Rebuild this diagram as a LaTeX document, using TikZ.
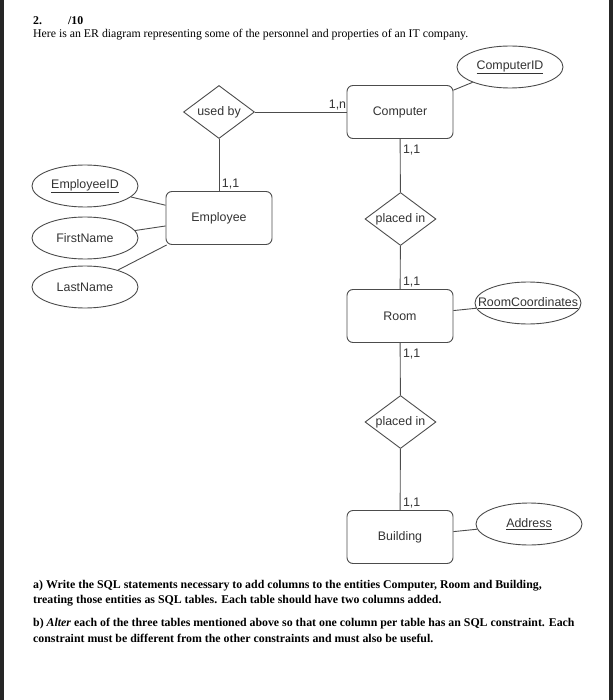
\documentclass[tikz,border=0pt]{standalone}
\usepackage{fontspec}
\setmainfont{Liberation Serif}
\newfontfamily\erfont{Liberation Sans}
\usetikzlibrary{shapes.geometric}
\definecolor{erline}{gray}{0.3}
\definecolor{ertext}{gray}{0.2}
\tikzset{
%Define the font of the diagram
er font/.style={font=\erfont\fontsize{12.4}{14}\selectfont, text=ertext},
%Define style for the ER shapes
entity/.style={draw=erline, line width=0.9pt, rounded corners=6pt, minimum width=106pt, minimum height=53pt, er font},
relation/.style={draw=erline, line width=0.9pt, diamond, minimum width=71pt, minimum height=53pt, inner sep=0pt, label={[er font]center:#1}},
attribute/.style={draw=erline, line width=0.9pt, ellipse, minimum width=106pt, minimum height=42pt, inner sep=0pt, label={[er font]center:#1}},
%Define style for the links and the cardinalities
link/.style={erline, line width=0.9pt},
card above/.style={anchor=base west, inner sep=0pt, xshift=2.5pt, yshift=3.5pt, er font},
card below/.style={anchor=north west, inner sep=0pt, xshift=2.5pt, yshift=-5.5pt, er font},
card left/.style={anchor=base east, inner sep=0pt, yshift=3pt, er font},
%Define style for the question text
question/.style={anchor=base west, inner sep=0pt, align=left, font=\bfseries\fontsize{11.85}{15.5}\selectfont},
}

\begin{document}
\begin{tikzpicture}[x=1pt, y=-1pt]
    \useasboundingbox (0,0) rectangle (615,700);
    % scan edges
    \fill[black!85] (0,0) rectangle (4,700);
    \fill[black!85] (609,0) rectangle (613,700);

    % heading
    \node[question] (qnum) at (33,25) {2.};
    \node[question] (qmark) at (68,25) {/10};
    \node[anchor=base west, inner sep=0pt, font=\fontsize{11.8}{13}\selectfont] (intro) at (33,38)
        {Here is an ER diagram representing some of the personnel and properties of an IT company.};

    % entities
    \node[entity] (computer) at (400,112) {Computer};
    \node[entity] (employee) at (219,218) {Employee};
    \node[entity] (room) at (400,316) {Room};
    \node[entity] (building) at (400,537) {Building};

    % relations
    \node[relation={used by}] (usedby) at (219,112) {};
    \node[relation={placed in}] (placedin1) at (400.5,219) {};
    \node[relation={placed in}] (placedin2) at (400.5,422) {};

    % attributes
    \node[attribute={\underline{ComputerID}}] (computerid) at (510,67) {};
    \node[attribute={\underline{EmployeeID}}] (employeeid) at (85,186) {};
    \node[attribute={FirstName}] (firstname) at (85,238) {};
    \node[attribute={LastName}] (lastname) at (85,287) {};
    \node[attribute={\underline{RoomCoordinates}}] (roomcoord) at (528,303) {};
    \node[attribute={\underline{Address}}] (address) at (529,524) {};

    % links with cardinalities
    \draw[link] (usedby) -- (computer) node[pos=1, card left] (c1) {1,n};
    \draw[link] (usedby) -- (employee) node[pos=1, card above] (c2) {1,1};
    \draw[link] (computer) -- (placedin1) node[pos=0, card below] (c3) {1,1};
    \draw[link] (placedin1) -- (room) node[pos=1, card above] (c4) {1,1};
    \draw[link] (room) -- (placedin2) node[pos=0, card below] (c5) {1,1};
    \draw[link] (placedin2) -- (building) node[pos=1, card above] (c6) {1,1};

    % attribute links
    \draw[link] (computerid) -- (computer);
    \draw[link] (employeeid) -- (employee);
    \draw[link] (firstname) -- (employee);
    \draw[link] (lastname) -- (employee);
    \draw[link] (roomcoord) -- (room);
    \draw[link] (address) -- (building);

    % questions (base is the last line)
    \node[question] (parta) at (33,603.5)
        {a) Write the SQL statements necessary to add columns to the entities Computer, Room and Building,\\
         treating those entities as SQL tables. Each table should have two columns added.};
    \node[question] (partb) at (33,642)
        {b) \textit{Alter} each of the three tables mentioned above so that one column per table has an SQL constraint. Each\\
         constraint must be different from the other constraints and must also be useful.};
\end{tikzpicture}
\end{document}
